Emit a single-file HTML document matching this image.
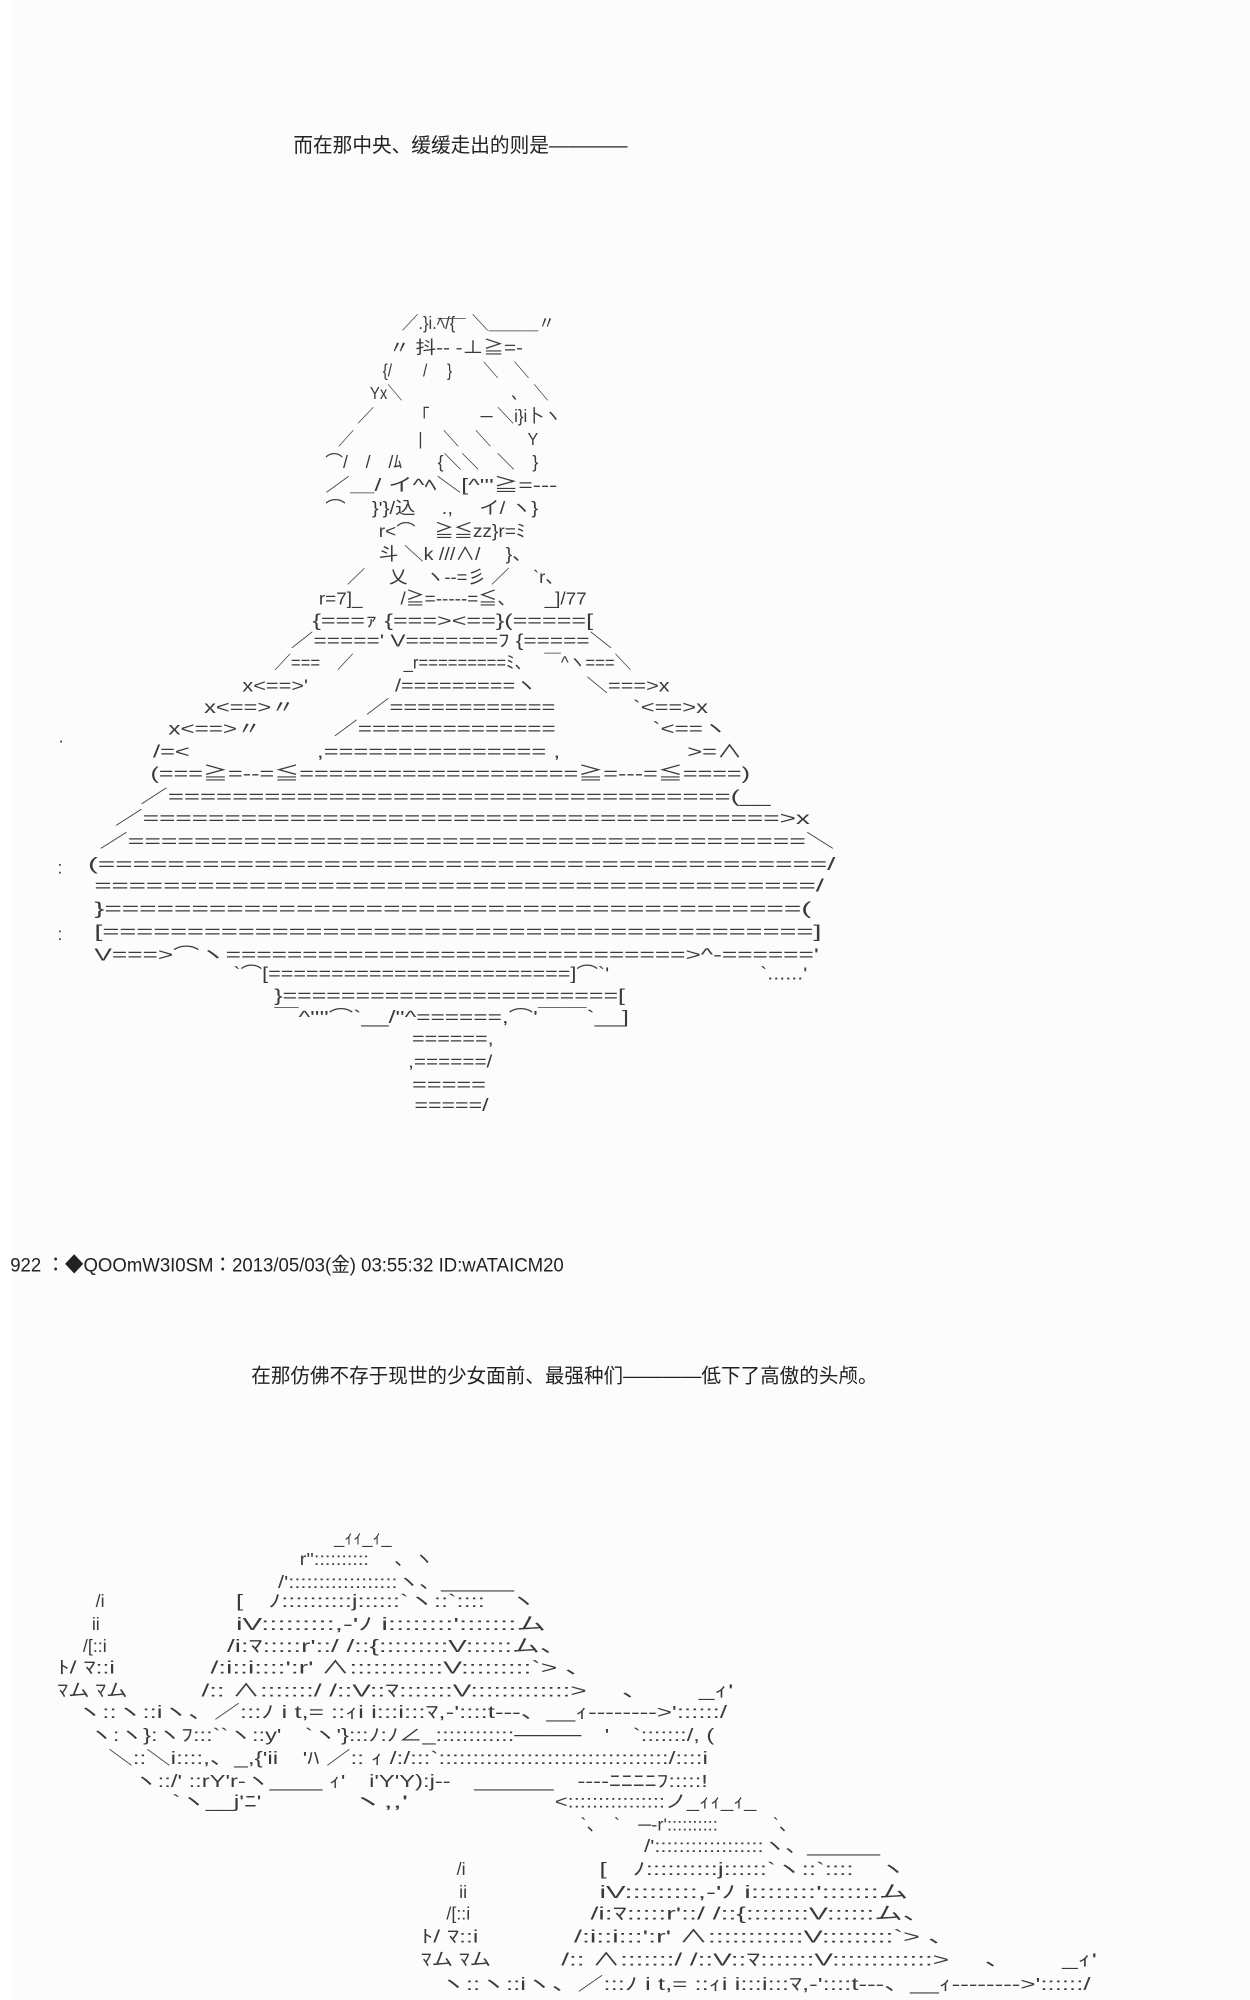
<!DOCTYPE html>
<html><head><meta charset="utf-8"><style>
html,body{margin:0;padding:0;background:#fff;width:1250px;height:2000px;overflow:hidden}
svg{display:block}
text{font-family:"Liberation Sans","Noto Sans CJK JP",sans-serif;white-space:pre}
.a{font-size:14px;fill:#3a3a3a}
.c{font-size:15.5px;fill:#222}
</style></head><body>
<svg width="1250" height="2000" viewBox="0 0 1250 2000" xmlns="http://www.w3.org/2000/svg">
<rect x="0" y="0" width="1250" height="2000" fill="#fcfcfc"/>
<rect x="0" y="0" width="12" height="2000" fill="#ffffff"/>
<g transform="scale(1.2755)" lengthAdjust="spacingAndGlyphs">
<text class="c" x="230" y="119" textLength="262" lengthAdjust="spacingAndGlyphs">而在那中央、缓缓走出的则是————</text>
<text class="c" x="8" y="997" textLength="434" lengthAdjust="spacingAndGlyphs">922 ：◆QOOmW3I0SM：2013/05/03(金) 03:55:32 ID:wATAICM20</text>
<text class="c" x="197" y="1084" textLength="491" lengthAdjust="spacingAndGlyphs">在那仿佛不存于现世的少女面前、最强种们————低下了高傲的头颅。</text>

<g class="a">
<text x="343" y="248" textLength="22" lengthAdjust="spacingAndGlyphs">＿＿</text>
<text x="315" y="258" textLength="120" lengthAdjust="spacingAndGlyphs">／.}i.ﾍ/{　＼＿＿＿〃</text>
<text x="305" y="277" textLength="105" lengthAdjust="spacingAndGlyphs">〃 抖-- -⊥≧=-</text>
<text x="300" y="295" textLength="115" lengthAdjust="spacingAndGlyphs">{/　　/　 }　　＼　＼</text>
<text x="290" y="313" textLength="140" lengthAdjust="spacingAndGlyphs">Yx＼　　　　　　　 、　＼</text>
<text x="280" y="331" textLength="160" lengthAdjust="spacingAndGlyphs">／　　 「　　　─ ＼i}i卜ヽ</text>
<text x="265" y="349" textLength="157" lengthAdjust="spacingAndGlyphs">／　　　　|　 ＼　＼　　 Y</text>
<text x="255" y="367" textLength="167" lengthAdjust="spacingAndGlyphs">⌒/　/　/ﾑ　　{＼＼　＼　}</text>
<text x="255" y="385" textLength="182" lengthAdjust="spacingAndGlyphs">／＿/ イ^ﾍ＼[^'''≧=---</text>
<text x="255" y="403" textLength="167" lengthAdjust="spacingAndGlyphs">⌒　 }'}/込　 .,　 イ/ ヽ}</text>
<text x="297" y="421" textLength="115" lengthAdjust="spacingAndGlyphs">r&lt;⌒　≧≦zz}r=ﾐ</text>
<text x="297" y="439" textLength="120" lengthAdjust="spacingAndGlyphs">斗 ＼k ///∧/　 }、</text>
<text x="272" y="457" textLength="170" lengthAdjust="spacingAndGlyphs">／　 乂　ヽ--=彡 ／　 `r、</text>
<text x="250" y="474" textLength="210" lengthAdjust="spacingAndGlyphs">r=7]_　　/≧=-----=≦、　　_]/77</text>
<text x="245" y="491" textLength="220" lengthAdjust="spacingAndGlyphs">{===ｧ {===&gt;&lt;==}(=====[</text>
<text x="228" y="507" textLength="252" lengthAdjust="spacingAndGlyphs">／=====' V=======ﾌ {=====＼</text>
<text x="215" y="524" textLength="280" lengthAdjust="spacingAndGlyphs">／===　／　　　_r=========ﾐ、　 ￣^ヽ===＼</text>
<text x="190" y="542" textLength="335" lengthAdjust="spacingAndGlyphs">x&lt;==&gt;'　　　　/=========ヽ　　 ＼===&gt;x</text>
<text x="160" y="559" textLength="395" lengthAdjust="spacingAndGlyphs">x&lt;==&gt;〃　　　／============ 　　　`&lt;==&gt;x</text>
<text x="132" y="576" textLength="438" lengthAdjust="spacingAndGlyphs">x&lt;==&gt;〃　　　／==============　　　　`&lt;==ヽ</text>
<text x="120" y="594" textLength="462" lengthAdjust="spacingAndGlyphs">/=&lt;　　　　　,=============== ,　　　　　&gt;=∧</text>
<text x="118" y="611" textLength="470" lengthAdjust="spacingAndGlyphs">(===≧=--=≦===================≧=---=≦====)</text>
<text x="110" y="629" textLength="494" lengthAdjust="spacingAndGlyphs">／===================================(__</text>
<text x="90" y="646" textLength="545" lengthAdjust="spacingAndGlyphs">／=======================================&gt;x</text>
<text x="78" y="664" textLength="576" lengthAdjust="spacingAndGlyphs">／=========================================＼</text>
<text x="69" y="682" textLength="586" lengthAdjust="spacingAndGlyphs">(==========================================/</text>
<text x="74" y="699" textLength="572" lengthAdjust="spacingAndGlyphs">==========================================/</text>
<text x="74" y="717" textLength="562" lengthAdjust="spacingAndGlyphs">}========================================(</text>
<text x="74" y="735" textLength="570" lengthAdjust="spacingAndGlyphs">[==========================================]</text>
<text x="74" y="753" textLength="568" lengthAdjust="spacingAndGlyphs">V===&gt;⌒ヽ==============================&gt;^-======'</text>
<text x="183" y="768" textLength="450" lengthAdjust="spacingAndGlyphs">`⌒[========================]⌒`'　　　　　　　`......'</text>
<text x="215" y="785" textLength="275" lengthAdjust="spacingAndGlyphs">}=======================[</text>
<text x="215" y="802" textLength="278" lengthAdjust="spacingAndGlyphs">￣^''''⌒`__/''^======,⌒'￣￣`__]</text>
<text x="323" y="819" textLength="64" lengthAdjust="spacingAndGlyphs">======,</text>
<text x="320" y="837" textLength="66" lengthAdjust="spacingAndGlyphs">,======/</text>
<text x="323" y="855" textLength="58" lengthAdjust="spacingAndGlyphs">=====</text>
<text x="325" y="871" textLength="58" lengthAdjust="spacingAndGlyphs">=====/</text>
<text x="46" y="582">.</text>
<text x="45" y="685">:</text>
<text x="45" y="737">:</text>

<text x="262" y="1210" textLength="45" lengthAdjust="spacingAndGlyphs">_ｨｨ_ｨ_</text>
<text x="235" y="1227" textLength="105" lengthAdjust="spacingAndGlyphs">r'':::::::::: 　、ヽ</text>
<text x="218" y="1245" textLength="185" lengthAdjust="spacingAndGlyphs">/'::::::::::::::::::ヽ、______</text>
<text x="75" y="1260">/i</text>
<text x="185" y="1260" textLength="235" lengthAdjust="spacingAndGlyphs">[　ﾉ::::::::::j::::::`ヽ::`::::　ヽ</text>
<text x="72" y="1278">ii</text>
<text x="185" y="1278" textLength="243" lengthAdjust="spacingAndGlyphs">iV:::::::::,-'ﾉ i::::::::':::::::ム</text>
<text x="65" y="1295">/[::i</text>
<text x="178" y="1295" textLength="267" lengthAdjust="spacingAndGlyphs">/i:ﾏ:::::r'::/ /::{:::::::::V::::::ム、</text>
<text x="45" y="1312" textLength="45" lengthAdjust="spacingAndGlyphs">ﾄ/ ﾏ::i</text>
<text x="165" y="1312" textLength="300" lengthAdjust="spacingAndGlyphs">/:i::i::::':r' ∧::::::::::::V:::::::::`&gt; 、</text>
<text x="45" y="1330" textLength="55" lengthAdjust="spacingAndGlyphs">ﾏム ﾏム</text>
<text x="158" y="1330" textLength="417" lengthAdjust="spacingAndGlyphs">/:: ∧:::::::/ /::V::ﾏ:::::::V:::::::::::::&gt;　 、　　 _ｨ'</text>
<text x="60" y="1347" textLength="510" lengthAdjust="spacingAndGlyphs">ヽ::ヽ::iヽ、／:::ﾉ i t,= ::ｨi i:::i:::ﾏ,-'::::t---、__ｨ--------&gt;'::::::/</text>
<text x="70" y="1365" textLength="490" lengthAdjust="spacingAndGlyphs">ヽ:ヽ}:ヽﾌ:::``ヽ::y'　`ヽ'}:::ﾉ:ﾉ∠_::::::::::::────　'　`:::::::/, (</text>
<text x="85" y="1383" textLength="470" lengthAdjust="spacingAndGlyphs">＼::＼i::::,、_,{'ii　'ﾊ ／:: ｨ /:/:::`::::::::::::::::::::::::::::::::::/::::i</text>
<text x="105" y="1401" textLength="450" lengthAdjust="spacingAndGlyphs">ヽ::/' ::rY'r-ヽ____ ｨ'　i'Y'Y):j--　______　----ﾆﾆﾆﾆﾌ:::::!</text>
<text x="135" y="1417" textLength="70" lengthAdjust="spacingAndGlyphs">`ヽ__j'ﾆ'</text>
<text x="275" y="1417" textLength="45" lengthAdjust="spacingAndGlyphs">ヽ,,'</text>
<text x="435" y="1417" textLength="158" lengthAdjust="spacingAndGlyphs">&lt;::::::::::::::::ノ_ｨｨ_ｨ_</text>
<text x="455" y="1435" textLength="170" lengthAdjust="spacingAndGlyphs">`、　`　─‐r'::::::::::　　　`、</text>
<text x="505" y="1452" textLength="185" lengthAdjust="spacingAndGlyphs">/'::::::::::::::::::ヽ、______</text>
<text x="358" y="1470">/i</text>
<text x="470" y="1470" textLength="240" lengthAdjust="spacingAndGlyphs">[　ﾉ::::::::::j::::::`ヽ::`::::　ヽ</text>
<text x="360" y="1488">ii</text>
<text x="470" y="1488" textLength="242" lengthAdjust="spacingAndGlyphs">iV:::::::::,-'ﾉ i::::::::':::::::ム</text>
<text x="350" y="1505">/[::i</text>
<text x="463" y="1505" textLength="267" lengthAdjust="spacingAndGlyphs">/i:ﾏ:::::r'::/ /::{::::::::V::::::ム、</text>
<text x="330" y="1523" textLength="45" lengthAdjust="spacingAndGlyphs">ﾄ/ ﾏ::i</text>
<text x="450" y="1523" textLength="300" lengthAdjust="spacingAndGlyphs">/:i::i:::':r' ∧::::::::::::V:::::::::`&gt; 、</text>
<text x="330" y="1541" textLength="55" lengthAdjust="spacingAndGlyphs">ﾏム ﾏム</text>
<text x="440" y="1541" textLength="420" lengthAdjust="spacingAndGlyphs">/:: ∧:::::::/ /::V::ﾏ:::::::V:::::::::::::&gt;　 、　　 _ｨ'</text>
<text x="345" y="1560" textLength="510" lengthAdjust="spacingAndGlyphs">ヽ::ヽ::iヽ、／:::ﾉ i t,= ::ｨi i:::i:::ﾏ,-'::::t---、__ｨ--------&gt;'::::::/</text>
</g>
</g>
</svg>
</body></html>
